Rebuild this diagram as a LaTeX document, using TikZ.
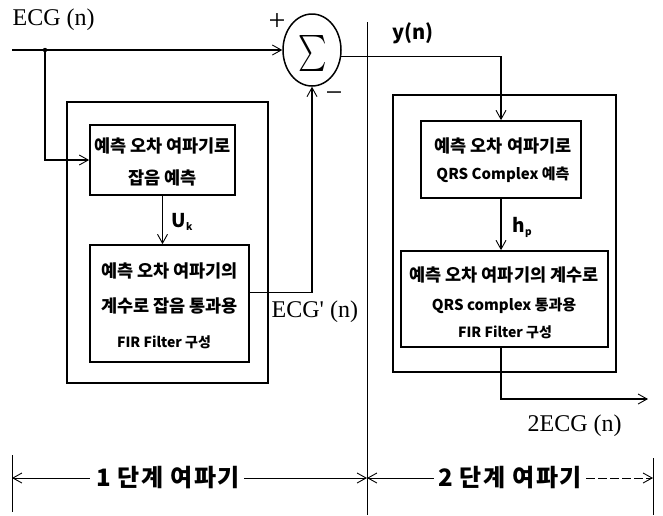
\documentclass[tikz,border=0pt]{standalone}
\usepackage{fontspec}
\setmainfont{Liberation Serif}
\newfontfamily\kr{Noto Sans CJK KR}
\newfontfamily\krwide{Noto Sans CJK KR}[LetterSpace=6]
\usetikzlibrary{arrows.meta,shapes.geometric,calc}
\begin{document}
\begin{tikzpicture}[x=1pt,y=-1pt,line width=1.4pt,
  >={Straight Barb[length=9pt,width=10pt,line width=0.9pt]},
  box/.style={draw,rectangle,line width=1.7pt,inner sep=0pt},
  krbig/.style={inner sep=0pt,font=\kr\bfseries\fontsize{17.5}{17.5}\selectfont},
  krmid/.style={inner sep=0pt,font=\kr\bfseries\fontsize{15}{15}\selectfont},
  krsmall/.style={inner sep=0pt,font=\kr\bfseries\fontsize{14}{14}\selectfont},
  krbottom/.style={inner sep=0pt,font=\krwide\bfseries\fontsize{24}{24}\selectfont},
  serif/.style={inner sep=0pt,font=\fontsize{24}{24}\selectfont},
  sign/.style={inner sep=0pt,font=\fontsize{30}{30}\selectfont},
  dim/.style={line width=0.9pt}]
\useasboundingbox (0,0) rectangle (663,515);
% sum
\node[ellipse,draw,line width=1.5pt,minimum width=58pt,minimum height=72pt,inner sep=0pt] (sum) at (312,50) {};
\node[inner sep=0pt] (sigma) at (313,53) {\scalebox{2.7}[3.6]{$\sum$}};
\node[sign] (plus) at (277,22) {+};
\node[sign] (minus) at (334,97) {−};
% left stage
\node[box,minimum width=201pt,minimum height=281pt] (o1) at (167.5,242.5) {};
\node[box,minimum width=145pt,minimum height=70pt] (b1) at (162.5,160) {};
\node[box,minimum width=159pt,minimum height=117pt] (b2) at (169.5,303.5) {};
\node[krbig] (t1a) at (162.5,146) {예측 오차 여파기로};
\node[krbig] (t1b) at (162.5,178) {잡음 예측};
\node[krbig] (t2a) at (169.5,271) {예측 오차 여파기의};
\node[krbig] (t2b) at (169.5,306) {계수로 잡음 통과용};
\node[krsmall] (t2c) at (164,342) {FIR Filter 구성};
% right stage
\node[box,minimum width=223pt,minimum height=277pt] (o2) at (504.5,233.5) {};
\node[box,minimum width=160pt,minimum height=77pt] (b3) at (501,159.5) {};
\node[box,minimum width=207pt,minimum height=96pt] (b4) at (504.5,299) {};
\node[krbig] (t3a) at (503,146) {예측 오차 여파기로};
\node[krmid] (t3b) at (503,175) {QRS Complex 예측};
\node[krbig] (t4a) at (504,275) {예측 오차 여파기의 계수로};
\node[krmid] (t4b) at (504,306) {QRS complex 통과용};
\node[krsmall] (t4c) at (505,332) {FIR Filter 구성};
% labels
\node[serif,anchor=west] (ecg) at (12,20) {ECG (n)};
\node[serif,anchor=west] (ecgp) at (271,312) {ECG\textquotesingle\ (n)};
\node[serif,anchor=west] (ecg2) at (527,426) {2ECG (n)};
\node[inner sep=0pt,font=\kr\bfseries\fontsize{20}{20}\selectfont] (yn) at (413,33) {y(n)};
\node[inner sep=0pt,font=\kr\bfseries\fontsize{19}{19}\selectfont,anchor=west] (uk) at (171,222) {U\raisebox{-3pt}{\fontsize{10}{10}\selectfont k}};
\node[inner sep=0pt,font=\kr\bfseries\fontsize{19}{19}\selectfont,anchor=west] (hp) at (512,227) {h\raisebox{-3pt}{\fontsize{10}{10}\selectfont p}};
% signal lines
\coordinate (in) at (12,50);
\coordinate (j) at (45,50);
\draw (in) -- (j);
\draw[->] (j) -- (sum.west);
\fill (j) circle (2.2pt);
\draw[->] (j) |- (b1.west);
\draw[->] (b1.south) -- (b1.south|-b2.north);
\draw[->] ([yshift=11pt]b2.east) -| (sum.south);
\draw[->] (sum.-12) -| (b3.north);
\draw[->] (b3.south) -- (b3.south|-b4.north);
\coordinate (outend) at (648,399);
\draw[->] (b3.south|-b4.south) |- (outend);
% divider
\coordinate (dtop) at (367,22);
\coordinate (dbot) at (367,515);
\draw[dim] (dtop) -- (dbot);
% bottom dimension
\coordinate (L) at (12,478);
\coordinate (M) at (367,478);
\coordinate (R) at (653,478);
\coordinate (Lt) at (12,455);
\coordinate (Lb) at (12,512);
\coordinate (Rt) at (653,458);
\coordinate (Rb) at (653,515);
\draw[dim] (Lt) -- (Lb);
\draw[dim] (Rt) -- (Rb);
\node[krbottom] (l1) at (168,478) {1 단계 여파기};
\node[krbottom] (l2) at (510,478) {2 단계 여파기};
\draw[dim,->] ([xshift=-6pt]l1.west) -- (L);
\draw[dim,->] ([xshift=4pt]l1.east) -- (M);
\draw[dim,->] ([xshift=-4pt]l2.west) -- (M);
\draw[dim,->,dash pattern=on 9pt off 3pt] ([xshift=4pt]l2.east) -- (R);
\end{tikzpicture}
\end{document}
